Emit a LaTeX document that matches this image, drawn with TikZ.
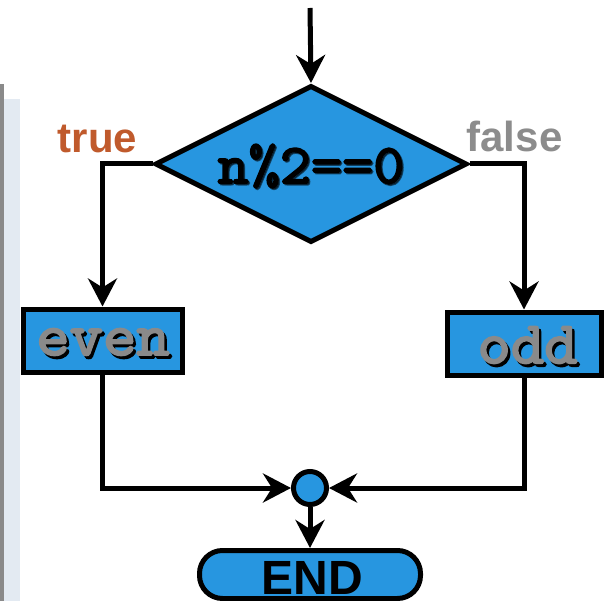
\documentclass[tikz,border=0pt]{standalone}
\usepackage{fontspec}
\setmainfont{Liberation Sans}
\newfontfamily\codefont{Latin Modern Mono}[AutoFakeBold=3.2, FakeStretch=1.08]
\usetikzlibrary{shapes.geometric,arrows.meta}
\definecolor{flowblue}{HTML}{2796E0}
\definecolor{truecol}{HTML}{C05A2C}
\definecolor{falsecol}{HTML}{8C8C8C}
\definecolor{bargray}{HTML}{8A8A8A}
\definecolor{panel}{HTML}{E3EAF2}
\definecolor{codegray}{HTML}{8A8A8A}
\tikzset{
  shape outline/.style={draw=black, line width=5pt, fill=flowblue},
  decision/.style={shape outline, diamond, inner sep=0pt, minimum width=312pt, minimum height=157pt},
  actionbox/.style={shape outline, rectangle, inner sep=0pt},
  junction/.style={shape outline, circle, inner sep=0pt, minimum size=33pt},
  terminal/.style={shape outline, rectangle, rounded corners=23pt, inner sep=0pt, minimum width=221pt, minimum height=48pt},
  flow/.style={line width=5pt, -{Stealth[length=28pt, width=29pt, inset=9pt]}},
  codetext/.style={font=\fontsize{56}{56}\selectfont\codefont\bfseries, inner sep=0pt},
  boxtext/.style={font=\fontsize{60}{60}\selectfont\codefont\bfseries, inner sep=0pt},
  branchlabel/.style={font=\fontsize{42}{42}\selectfont\bfseries, inner sep=0pt, anchor=base},
}
\begin{document}
\begin{tikzpicture}[x=1pt, y=-1pt]
  % page area
  \fill[white] (0,0) rectangle (604,601);
  \useasboundingbox (0,0) rectangle (604,601);
  % side panel at the left edge
  \fill[bargray] (0,84) rectangle (4,601);
  \fill[panel] (4,99) rectangle (20,601);

  % decision
  \coordinate (entry) at (310,8);
  \node[decision] (test) at (311,164) {};
  \node[codetext, black, opacity=0.55] (testshadow) at (312.5,167.5) {n\%2==0};
  \node[codetext, black] (testtext) at (311,166) {n\%2==0};

  % the two branches
  \node[actionbox, minimum width=159pt, minimum height=63pt] (even) at (102.5,340.5) {};
  \node[boxtext, black] (evenshadow) at (105.5,345) {even};
  \node[boxtext, codegray] (eventext) at (103,342) {even};

  \node[actionbox, minimum width=154pt, minimum height=63pt] (odd) at (524,343.5) {};
  \node[boxtext, black] (oddshadow) at (530,348) {odd};
  \node[boxtext, codegray] (oddtext) at (527.5,345) {odd};

  % merge point and end
  \node[junction] (join) at (310,488) {};
  \node[terminal] (stop) at (310,574.5) {};
  \node[font=\fontsize{48}{48}\selectfont\bfseries, inner sep=0pt, anchor=base, black] (stoptext) at (312,594) {END};

  % branch labels
  \node[branchlabel, truecol] (truelabel) at (97.5,153) {true};
  \node[branchlabel, falsecol] (falselabel) at (514.5,152) {false};

  % connectors
  \draw[flow] (entry) -- (test.north);
  \draw[flow] (test.west) -| (even.north);
  \draw[flow] (test.east) -| (odd.north);
  \draw[flow] (even.south) |- (join.west);
  \draw[flow] (odd.south) |- (join.east);
  \draw[flow] (join.south) -- (stop.north);
\end{tikzpicture}
\end{document}
